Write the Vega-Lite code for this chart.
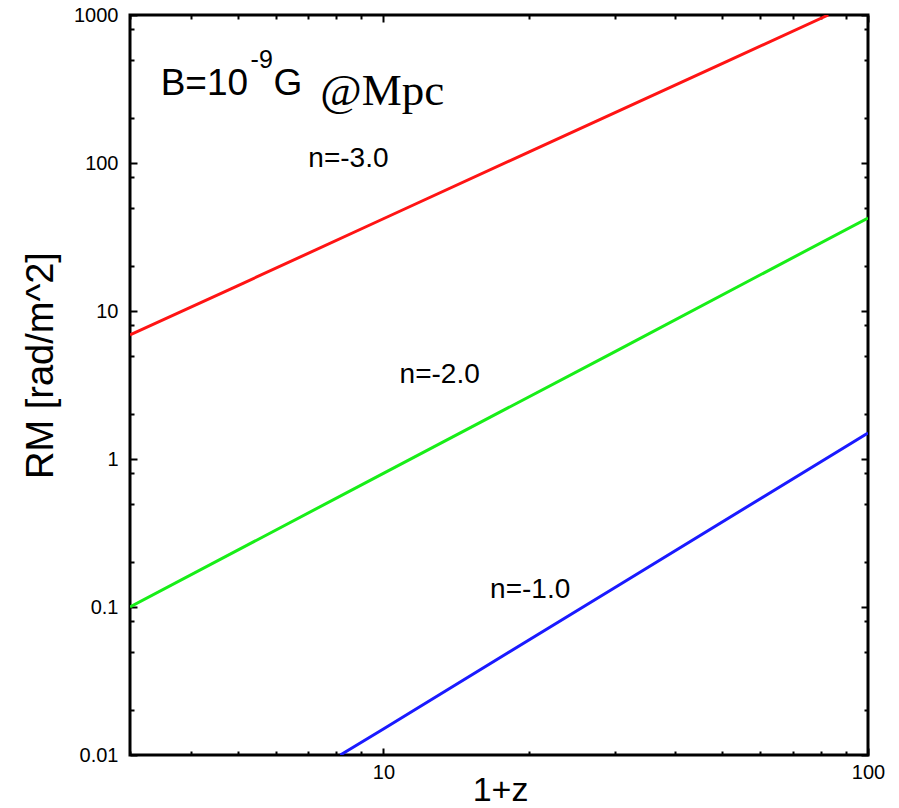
{
  "$schema": "https://vega.github.io/schema/vega-lite/v6.json",
  "width": 738,
  "height": 740,
  "autosize": {"type": "none"},
  "padding": {"left": 130, "top": 15, "right": 31, "bottom": 53},
  "background": "white",
  "config": {
    "view": {"stroke": "black", "strokeWidth": 3},
    "axis": {
      "domain": false,
      "grid": false,
      "labelFont": "Liberation Sans",
      "labelColor": "black",
      "labelFlush": false,
      "labelOverlap": false,
      "tickColor": "black",
      "tickWidth": 2,
      "titleFont": "Liberation Sans",
      "titleColor": "black",
      "titleFontWeight": "normal"
    }
  },
  "datasets": {
    "curves": [
      {"n": "-3.0", "z1": 3, "rm": 6.9},
      {"n": "-3.0", "z1": 5, "rm": 14.8},
      {"n": "-3.0", "z1": 10, "rm": 42},
      {"n": "-3.0", "z1": 20, "rm": 119},
      {"n": "-3.0", "z1": 50, "rm": 469},
      {"n": "-3.0", "z1": 82.8, "rm": 1000},
      {"n": "-2.0", "z1": 3, "rm": 0.1},
      {"n": "-2.0", "z1": 10, "rm": 0.8},
      {"n": "-2.0", "z1": 30, "rm": 5.3},
      {"n": "-2.0", "z1": 100, "rm": 42.5},
      {"n": "-1.0", "z1": 8.15, "rm": 0.01},
      {"n": "-1.0", "z1": 10, "rm": 0.015},
      {"n": "-1.0", "z1": 30, "rm": 0.135},
      {"n": "-1.0", "z1": 100, "rm": 1.5}
    ]
  },
  "layer": [
    {
      "data": {"name": "curves"},
      "mark": {"type": "line", "strokeWidth": 3, "clip": true},
      "encoding": {
        "x": {
          "field": "z1", "type": "quantitative",
          "scale": {"type": "log", "domain": [3, 100]},
          "axis": {
            "orient": "bottom",
            "values": [3, 4, 5, 6, 7, 8, 9, 10, 20, 30, 40, 50, 60, 70, 80, 90, 100],
            "labelExpr": "indexof([10,100], datum.value) >= 0 ? '' + datum.value : ''",
            "labelFontSize": 20,
            "tickSize": {"condition": {"test": "indexof([10,100], datum.value) >= 0", "value": -7}, "value": -4},
            "labelPadding": 14,
            "labelBaseline": "top",
            "title": "1+z",
            "titleFontSize": 34,
            "titleX": 370,
            "titleY": 45,
            "titleAnchor": null,
            "titleAlign": "center",
            "titleBaseline": "alphabetic"
          }
        },
        "y": {
          "field": "rm", "type": "quantitative",
          "scale": {"type": "log", "domain": [0.01, 1000]},
          "axis": {
            "orient": "left",
            "values": [0.01, 0.02, 0.05, 0.08, 0.1, 0.2, 0.5, 0.8, 1, 2, 5, 8, 10, 20, 50, 80, 100, 200, 500, 800, 1000],
            "labelExpr": "indexof([0.01,0.1,1,10,100,1000], datum.value) >= 0 ? '' + datum.value : ''",
            "labelFontSize": 20,
            "tickSize": {"condition": {"test": "indexof([0.01,0.1,1,10,100,1000], datum.value) >= 0", "value": -7}, "value": -4},
            "labelPadding": 19,
            "labelBaseline": "middle",
            "title": "RM [rad/m^2]",
            "titleFontSize": 38,
            "titleX": -78,
            "titleY": 350,
            "titleAngle": -90,
            "titleAlign": "center",
            "titleBaseline": "alphabetic"
          }
        },
        "color": {
          "field": "n", "type": "nominal",
          "scale": {"domain": ["-3.0", "-2.0", "-1.0"], "range": ["#ff1414", "#18ee18", "#1a1aff"]},
          "legend": null
        }
      }
    },
    {
      "data": {"name": "curves"},
      "mark": {"type": "line", "opacity": 0},
      "encoding": {
        "x": {
          "field": "z1", "type": "quantitative",
          "scale": {"type": "log", "domain": [3, 100]},
          "axis": {
            "orient": "top",
            "values": [3, 4, 5, 6, 7, 8, 9, 10, 20, 30, 40, 50, 60, 70, 80, 90, 100],
            "labels": false,
            "tickSize": {"condition": {"test": "indexof([10,100], datum.value) >= 0", "value": -7}, "value": -4},
            "title": null
          }
        },
        "y": {
          "field": "rm", "type": "quantitative",
          "scale": {"type": "log", "domain": [0.01, 1000]},
          "axis": {
            "orient": "right",
            "values": [0.01, 0.02, 0.05, 0.08, 0.1, 0.2, 0.5, 0.8, 1, 2, 5, 8, 10, 20, 50, 80, 100, 200, 500, 800, 1000],
            "labels": false,
            "tickSize": {"condition": {"test": "indexof([0.01,0.1,1,10,100,1000], datum.value) >= 0", "value": -7}, "value": -4},
            "title": null
          }
        },
        "detail": {"field": "n", "type": "nominal"}
      }
    },
    {
      "data": {"values": [{"label": "n=-3.0", "zx": 7.0, "ry": 94}, {"label": "n=-2.0", "zx": 10.8, "ry": 3.27}, {"label": "n=-1.0", "zx": 16.6, "ry": 0.115}]},
      "mark": {"type": "text", "font": "Liberation Sans", "fontSize": 28, "align": "left", "baseline": "alphabetic", "color": "black"},
      "encoding": {
        "x": {"field": "zx", "type": "quantitative", "scale": {"type": "log", "domain": [3, 100]}, "axis": null},
        "y": {"field": "ry", "type": "quantitative", "scale": {"type": "log", "domain": [0.01, 1000]}, "axis": null},
        "text": {"field": "label"}
      }
    },
    {
      "data": {"values": [{"label": "B=10", "zx": 3.47, "ry": 288}, {"label": "G", "zx": 5.93, "ry": 288}]},
      "mark": {"type": "text", "font": "Liberation Sans", "fontSize": 37, "align": "left", "baseline": "alphabetic", "color": "black"},
      "encoding": {
        "x": {"field": "zx", "type": "quantitative", "scale": {"type": "log", "domain": [3, 100]}, "axis": null},
        "y": {"field": "ry", "type": "quantitative", "scale": {"type": "log", "domain": [0.01, 1000]}, "axis": null},
        "text": {"field": "label"}
      }
    },
    {
      "data": {"values": [{"label": "-9", "zx": 5.32, "ry": 438}]},
      "mark": {"type": "text", "font": "Liberation Sans", "fontSize": 25, "align": "left", "baseline": "alphabetic", "color": "black"},
      "encoding": {
        "x": {"field": "zx", "type": "quantitative", "scale": {"type": "log", "domain": [3, 100]}, "axis": null},
        "y": {"field": "ry", "type": "quantitative", "scale": {"type": "log", "domain": [0.01, 1000]}, "axis": null},
        "text": {"field": "label"}
      }
    },
    {
      "data": {"values": [{"label": "@Mpc", "zx": 7.41, "ry": 247}]},
      "mark": {"type": "text", "font": "Liberation Serif", "fontSize": 45, "align": "left", "baseline": "alphabetic", "color": "black"},
      "encoding": {
        "x": {"field": "zx", "type": "quantitative", "scale": {"type": "log", "domain": [3, 100]}, "axis": null},
        "y": {"field": "ry", "type": "quantitative", "scale": {"type": "log", "domain": [0.01, 1000]}, "axis": null},
        "text": {"field": "label"}
      }
    }
  ],
  "resolve": {"axis": {"x": "independent", "y": "independent"}}
}
